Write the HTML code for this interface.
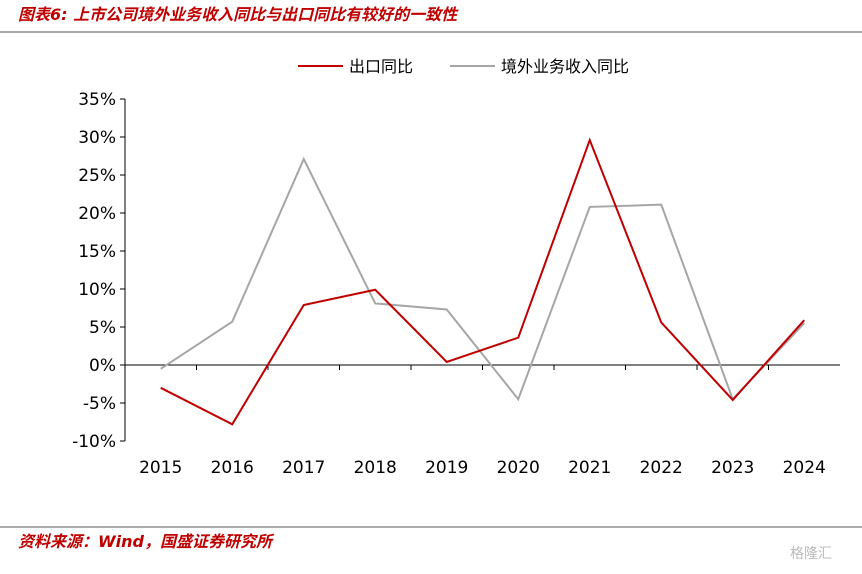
<!DOCTYPE html>
<html><head><meta charset="utf-8">
<style>
body{margin:0;background:#fff;width:862px;height:570px;overflow:hidden;font-family:"DejaVu Sans","Noto Sans CJK SC",sans-serif;}
svg text{font-family:"DejaVu Sans","Noto Sans CJK SC",sans-serif;}
</style></head>
<body>
<svg width="862" height="570">
<text x="18" y="20" font-size="16" fill="#c00000" font-style="italic" font-weight="bold">图表6:  上市公司境外业务收入同比与出口同比有较好的一致性</text>
<line x1="0" y1="32" x2="862" y2="32" stroke="#555" stroke-width="1"/>
<g>
<line x1="298" y1="66" x2="343" y2="66" stroke="#c00000" stroke-width="2"/>
<text x="349" y="72" font-size="16">出口同比</text>
<line x1="450" y1="66" x2="495" y2="66" stroke="#a6a6a6" stroke-width="2"/>
<text x="501" y="72" font-size="16">境外业务收入同比</text>
</g>
<g id="axes"></g>
<g id="series"></g>
<line x1="0" y1="527" x2="862" y2="527" stroke="#555" stroke-width="1"/>
<text x="18" y="547" font-size="16" fill="#c00000" font-style="italic" font-weight="bold">资料来源：Wind，国盛证券研究所</text>
<text x="790" y="558" font-size="14" fill="#bbb">格隆汇</text>
</svg>
<script>
const categories=["2015","2016","2017","2018","2019","2020","2021","2022","2023","2024"];
const exportYoY=[-3.0,-7.8,7.9,9.9,0.4,3.6,29.6,5.6,-4.6,5.9];
const overseasYoY=[-0.5,5.7,27.1,8.1,7.3,-4.5,20.8,21.1,-4.5,5.5];
const yTicks=[-10,-5,0,5,10,15,20,25,30,35];
const NS="http://www.w3.org/2000/svg";
const x0=125,x1=840,yTop=99,yBot=441,yMin=-10,yMax=35;
const bw=(x1-x0)/categories.length;
function X(i){return x0+bw*(i+0.5);}
function Y(v){return yBot-(v-yMin)/(yMax-yMin)*(yBot-yTop);}
function mk(tag,attrs,parent){const e=document.createElementNS(NS,tag);for(const k in attrs)e.setAttribute(k,attrs[k]);parent.appendChild(e);return e;}
const ax=document.getElementById('axes');
const ya=mk('line',{x1:x0,y1:yTop,x2:x0,y2:yBot,stroke:'#000','stroke-width':1},ax);


yTicks.forEach(v=>{
  mk('line',{x1:x0-5,y1:Y(v),x2:x0,y2:Y(v),stroke:'#000'},ax);
  const t=mk('text',{x:x0-9,y:Y(v)+6,'font-size':17,'text-anchor':'end'},ax);
  t.textContent=v+'%';
  
  
});
const xa=mk('line',{x1:x0,y1:Y(0),x2:x1,y2:Y(0),stroke:'#000','stroke-width':1},ax);


categories.forEach((c,i)=>{
  const bx=x0+bw*(i+1);
  if(i<categories.length-1) mk('line',{x1:bx,y1:Y(0),x2:bx,y2:Y(0)+5,stroke:'#000'},ax);
  const t=mk('text',{x:X(i),y:473,'font-size':17,'text-anchor':'middle'},ax);
  t.textContent=c;
  
  
});
const sg=document.getElementById('series');
function line(data,color,name){
  const p=mk('polyline',{points:data.map((v,i)=>X(i)+','+Y(v)).join(' '),fill:'none',stroke:color,'stroke-width':2},sg);
  
  
}
line(overseasYoY,'#a6a6a6','overseas-revenue-line');
line(exportYoY,'#c00000','export-line');
</script>
</body></html>
